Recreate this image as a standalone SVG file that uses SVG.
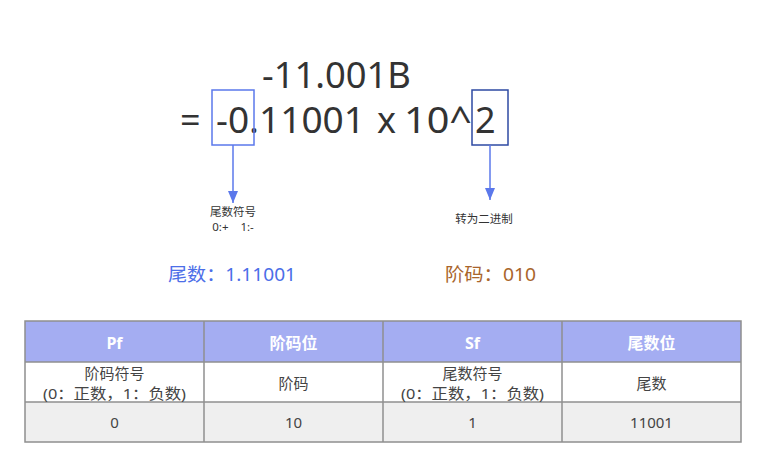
<svg xmlns="http://www.w3.org/2000/svg" width="766" height="468" viewBox="0 0 766 468">
<defs>
<style>
text{font-family:"Noto Sans","Noto Sans CJK SC",sans-serif;}
.big{font-size:36px;fill:#333333;}
.small{font-size:11.5px;fill:#333333;text-anchor:middle;}
.hd{font-size:16px;font-weight:bold;fill:#ffffff;text-anchor:middle;}
.cell{font-size:15px;fill:#444444;text-anchor:middle;}
.grid{stroke:#8f8f8f;stroke-width:1.5;fill:none;}
.conn{stroke:#5B78EB;stroke-width:1.5;fill:none;}
</style>
<marker id="arr" viewBox="0 0 12 10" refX="12" refY="5" markerWidth="12" markerHeight="10" orient="auto" markerUnits="userSpaceOnUse">
<path d="M0,0 L12,5 L0,10 z" fill="#5B78EB"/>
</marker>
</defs>
<rect width="766" height="468" fill="#ffffff"/>
<g id="formula">
<text class="big" x="262" y="88" textLength="149" lengthAdjust="spacingAndGlyphs">-11.001B</text>
<text class="big" y="133"><tspan x="180">=</tspan><tspan x="216" textLength="149" lengthAdjust="spacingAndGlyphs">-0.11001</tspan><tspan x="377">x</tspan><tspan x="404" textLength="68" lengthAdjust="spacingAndGlyphs">10^</tspan><tspan x="475">2</tspan></text>
</g>
<g id="box-sign">
<rect x="212" y="90" width="42" height="55" fill="none" stroke="#5B78EB" stroke-width="1.5"/>
</g>
<g id="box-exp">
<rect x="472" y="90" width="36" height="55" fill="none" stroke="#2E4AA3" stroke-width="1.5"/>
</g>
<g id="connectors">
<path class="conn" d="M233,145 V203" marker-end="url(#arr)"/>
<path class="conn" d="M490,145 V200" marker-end="url(#arr)"/>
</g>
<g id="label-sign">
<text class="small" xml:space="preserve"><tspan x="233" y="216">尾数符号</tspan><tspan x="233" y="231">0:+    1:-</tspan></text>
</g>
<g id="label-bin">
<text class="small" x="484" y="223">转为二进制</text>
</g>
<g id="mantissa">
<text x="168" y="281" font-size="18" fill="#4C6EE8" textLength="128" lengthAdjust="spacingAndGlyphs">尾数：1.11001</text>
</g>
<g id="exponent">
<text x="445" y="281" font-size="18" fill="#A9652C" textLength="91" lengthAdjust="spacingAndGlyphs">阶码：010</text>
</g>
<g id="table">
<rect x="25" y="321" width="716" height="41" fill="#A4ADF2"/>
<rect x="25" y="402" width="716" height="40" fill="#EFEFEF"/>
<rect class="grid" x="25" y="321" width="716" height="121"/>
<line class="grid" x1="25" y1="362" x2="741" y2="362"/>
<line class="grid" x1="25" y1="402" x2="741" y2="402"/>
<line class="grid" x1="204" y1="321" x2="204" y2="442"/>
<line class="grid" x1="383" y1="321" x2="383" y2="442"/>
<line class="grid" x1="562" y1="321" x2="562" y2="442"/>
<text class="hd" x="114.5" y="349">Pf</text>
<text class="hd" x="293.5" y="349">阶码位</text>
<text class="hd" x="472.5" y="349">Sf</text>
<text class="hd" x="651.5" y="349">尾数位</text>
<text class="cell" x="114.5" y="379">阶码符号</text>
<text class="cell" x="114.5" y="399" textLength="143" lengthAdjust="spacingAndGlyphs">(0：正数，1：负数)</text>
<text class="cell" x="293.5" y="389">阶码</text>
<text class="cell" x="472.5" y="379">尾数符号</text>
<text class="cell" x="472.5" y="399" textLength="143" lengthAdjust="spacingAndGlyphs">(0：正数，1：负数)</text>
<text class="cell" x="651.5" y="389">尾数</text>
<text class="cell" x="114.5" y="428">0</text>
<text class="cell" x="293.5" y="428">10</text>
<text class="cell" x="472.5" y="428">1</text>
<text class="cell" x="651.5" y="428">11001</text>
</g>
</svg>
